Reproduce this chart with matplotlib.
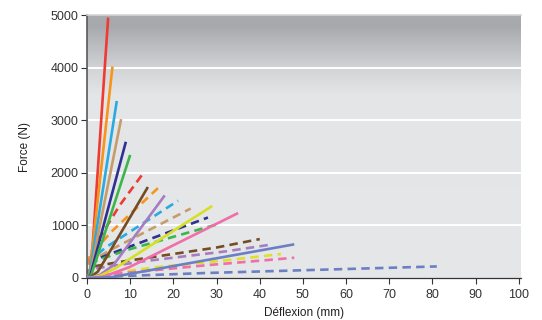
import numpy as np
import matplotlib
matplotlib.use("Agg")
import matplotlib.pyplot as plt
from matplotlib.colors import LinearSegmentedColormap

plt.rcParams['font.family'] = ['Liberation Sans', 'DejaVu Sans']

# deflection (mm) / force (N) curves, solid series
solid_names = ["red", "orange", "cyan", "tan", "navy", "green",
               "brown", "purple", "lime", "pink", "slate"]
solid_x = [
    [0, 0.7, 1.3, 4.9],
    [0, 0.6, 5.9],
    [0, 0.6, 6.9],
    [0, 0.7, 7.9],
    [0, 0.8, 9.0],
    [0, 1.0, 10.0],
    [0, 1.0, 2.5, 4.1, 14.1],
    [0, 1.5, 3.0, 6.1, 18.0],
    [0, 1.5, 3.0, 6.4, 29.0],
    [0, 2.0, 4.0, 9.9, 35.0],
    [0, 3.0, 6.0, 10.0, 48.0],
]
solid_y = [
    [0, 120, 600, 4950],
    [0, 80, 4020],
    [0, 70, 3365],
    [0, 60, 3020],
    [0, 60, 2590],
    [0, 60, 2340],
    [0, 30, 120, 338, 1730],
    [0, 25, 60, 242, 1570],
    [0, 15, 40, 178, 1370],
    [0, 10, 30, 210, 1235],
    [0, 5, 20, 80, 640],
]

# dashed series
dashed_names = ["red", "orange", "cyan", "tan", "navy", "green",
                "brown", "purple", "yellow", "pink", "slate"]
dashed_x = [
    [0, 0.8, 7.6, 13.0],
    [0, 0.8, 5.6, 16.9],
    [0, 0.9, 4.5, 21.1],
    [0, 1.0, 5.3, 24.0],
    [0, 1.0, 4.5, 28.0],
    [0, 1.2, 9.1, 31.0],
    [0, 1.5, 7.6, 29.9, 40.0],
    [0, 1.8, 13.7, 32.3, 43.0],
    [0, 3.0, 15.3, 32.3, 44.9],
    [0, 3.0, 27.6, 48.0],
    [0, 6.0, 27.6, 81.0],
]
dashed_y = [
    [0, 480, 1385, 1990],
    [0, 430, 876, 1745],
    [0, 350, 590, 1470],
    [0, 320, 528, 1320],
    [0, 310, 432, 1150],
    [0, 300, 528, 1040],
    [0, 220, 305, 578, 740],
    [0, 180, 324, 508, 640],
    [0, 60, 198, 337, 455],
    [0, 50, 242, 385],
    [0, 30, 95, 220],
]

colors = {
    "red": "#ee3a34",
    "orange": "#f7941d",
    "cyan": "#29abe2",
    "tan": "#c69c6d",
    "navy": "#2e3192",
    "green": "#3cb64b",
    "brown": "#754c24",
    "purple": "#a77dc2",
    "lime": "#d7df23",
    "yellow": "#dde02a",
    "pink": "#f06ea9",
    "slate": "#6b80c4",
}

fig = plt.figure(figsize=(5.42, 3.2), dpi=100)
ax = fig.add_axes([87 / 542, 42 / 320, 434 / 542, 263 / 320])
ax.set_xlim(0, 100.5)
ax.set_ylim(0, 5000)

# grey background, darker band at the top
bg = LinearSegmentedColormap.from_list(
    "bg", [(0.0, "#e6e7e8"), (0.70, "#e4e5e6"), (0.80, "#d2d3d5"),
           (0.92, "#b3b4b7"), (0.96, "#a7a8ab"), (1.0, "#aaabae")])
grad = np.linspace(0, 1, 256).reshape(-1, 1)
ax.imshow(grad, cmap=bg, origin="lower", aspect="auto",
          extent=[0, 100.5, 0, 5000], zorder=0)

for g in [1000, 2000, 3000, 4000]:
    ax.axhline(g, color="white", lw=1.4, zorder=1)

for name, xs, ys in zip(dashed_names, dashed_x, dashed_y):
    ax.plot(xs, ys, color=colors[name], lw=1.9, dashes=(3.2, 2.0),
            dash_capstyle="butt", zorder=2)
for name, xs, ys in zip(solid_names, solid_x, solid_y):
    ax.plot(xs, ys, color=colors[name], lw=1.9,
            solid_capstyle="butt", zorder=3)

ax.set_xticks(np.arange(0, 101, 10))
ax.set_yticks(np.arange(0, 5001, 1000))
ax.tick_params(direction="out", length=4, width=0.8, colors="#333333",
               labelsize=9)
ax.tick_params(axis="x", pad=4)
ax.tick_params(axis="y", pad=2)

ax.spines["right"].set_visible(False)
ax.spines["top"].set_color("#d4d4d4")
ax.spines["top"].set_linewidth(1.2)
ax.spines["left"].set_color("#58595b")
ax.spines["left"].set_linewidth(1.2)
ax.spines["bottom"].set_color("#333333")
ax.spines["bottom"].set_linewidth(0.9)

ax.set_xlabel("Déflexion (mm)", fontsize=8.5, color="#231f20", labelpad=4)
ax.set_ylabel("Force (N)", fontsize=8.5, color="#231f20", labelpad=14)

fig.savefig("out.png", dpi=100)
